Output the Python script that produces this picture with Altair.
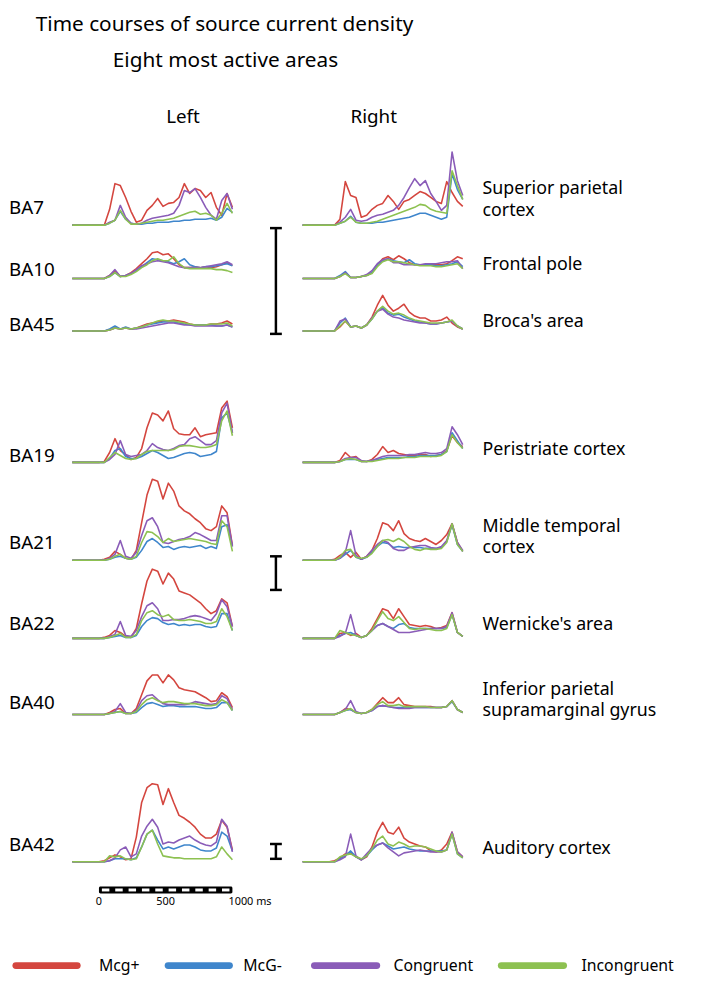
import altair as alt
import pandas as pd

# ---------------- data ----------------
T_MS = [-200, 0, 40, 80, 120, 160, 200, 240, 280, 320, 360, 400, 440, 480, 520,
        560, 600, 640, 680, 720, 760, 800, 840, 880, 920, 960, 1000]

CONDITIONS = ["Mcg+", "McG-", "Congruent", "Incongruent"]
COLORS = ["#d4463f", "#3f86cc", "#8a5cb8", "#8dc151"]

AREAS = ["BA7", "BA10", "BA45", "BA19", "BA21", "BA22", "BA40", "BA42"]
AREA_NAMES = [["Superior parietal", "cortex"], ["Frontal pole"], ["Broca's area"],
              ["Peristriate cortex"], ["Middle temporal", "cortex"], ["Wernicke's area"],
              ["Inferior parietal", "supramarginal gyrus"], ["Auditory cortex"]]

# amplitudes (arbitrary units) per area / hemisphere / condition
BA7_L_MCGP = [0, 0, 0, 16, 42, 40, 28, 14, 3, 5, 15, 20, 27, 19, 22, 23, 28, 42, 32, 37, 35, 28, 33, 18, 10, 32, 18]
BA7_L_MCGM = [0, 0, 0, 2, 5, 14, 6, 2, 1, 1, 2, 2, 3, 3, 3, 4, 4, 5, 5, 6, 6, 6, 7, 5, 8, 17, 13]
BA7_L_CONG = [0, 0, 0, 3, 5, 20, 8, 2, 1, 2, 5, 7, 8, 9, 10, 12, 20, 35, 33, 37, 28, 18, 10, 6, 25, 32, 16]
BA7_L_INCO = [0, 0, 0, 2, 5, 15, 6, 1, 1, 2, 3, 4, 5, 5, 6, 7, 9, 11, 13, 14, 11, 12, 10, 5, 12, 22, 12]
BA7_R_MCGP = [0, 0, 0, 6, 44, 30, 28, 8, 10, 16, 20, 22, 30, 24, 16, 24, 26, 30, 34, 32, 28, 24, 22, 44, 33, 24, 19]
BA7_R_MCGM = [0, 0, 0, 2, 4, 9, 3, 2, 2, 2, 3, 3, 4, 5, 6, 7, 8, 10, 12, 12, 10, 8, 6, 8, 52, 36, 26]
BA7_R_CONG = [0, 0, 0, 3, 8, 16, 5, 4, 5, 8, 10, 11, 13, 15, 20, 28, 38, 47, 40, 45, 32, 24, 15, 20, 74, 45, 30]
BA7_R_INCO = [0, 0, 0, 2, 4, 8, 3, 2, 2, 3, 4, 6, 8, 10, 12, 14, 16, 18, 21, 20, 16, 14, 13, 12, 55, 40, 26]

BA10_L_MCGP = [0, 0, 0, 3, 8, 2, 3, 6, 10, 15, 20, 26, 27, 24, 25, 20, 14, 11, 11, 12, 11, 12, 11, 12, 14, 16, 13]
BA10_L_MCGM = [0, 0, 0, 2, 6, 2, 3, 5, 8, 12, 16, 20, 19, 18, 17, 15, 17, 20, 14, 12, 11, 12, 12, 13, 14, 15, 13]
BA10_L_CONG = [0, 0, 0, 3, 9, 2, 3, 5, 9, 13, 15, 17, 18, 17, 16, 14, 12, 11, 11, 11, 11, 12, 13, 14, 15, 17, 14]
BA10_L_INCO = [0, 0, 0, 2, 6, 2, 2, 4, 7, 11, 14, 18, 20, 18, 18, 22, 15, 11, 10, 10, 10, 10, 10, 9, 9, 8, 6]
BA10_R_MCGP = [0, 0, 0, 2, 6, 1, 1, 2, 3, 6, 14, 20, 22, 19, 23, 20, 16, 14, 14, 14, 14, 14, 14, 15, 18, 22, 20]
BA10_R_MCGM = [0, 0, 0, 3, 7, 1, 1, 2, 3, 6, 14, 18, 20, 18, 17, 16, 19, 15, 14, 14, 14, 13, 13, 14, 15, 17, 12]
BA10_R_CONG = [0, 0, 0, 2, 6, 1, 1, 2, 4, 8, 15, 19, 20, 16, 16, 14, 14, 14, 14, 15, 15, 15, 16, 17, 17, 18, 10]
BA10_R_INCO = [0, 0, 0, 2, 5, 1, 1, 2, 3, 5, 12, 17, 19, 17, 17, 16, 15, 14, 13, 13, 13, 12, 12, 13, 14, 15, 10]

BA45_L_MCGP = [0, 0, 0, 1, 3, 2, 3, 2, 3, 5, 7, 8, 9, 10, 10, 11, 10, 9, 7, 6, 6, 6, 7, 7, 8, 10, 7]
BA45_L_MCGM = [0, 0, 0, 2, 5, 2, 4, 2, 3, 4, 6, 7, 8, 9, 9, 9, 8, 7, 6, 6, 6, 6, 6, 5, 5, 6, 4]
BA45_L_CONG = [0, 0, 0, 1, 3, 2, 3, 2, 2, 3, 4, 5, 6, 7, 8, 8, 7, 6, 6, 5, 5, 5, 5, 5, 5, 6, 4]
BA45_L_INCO = [0, 0, 0, 1, 3, 2, 3, 2, 3, 4, 6, 8, 10, 11, 10, 10, 9, 8, 7, 6, 6, 6, 7, 7, 7, 8, 5]
BA45_R_MCGP = [0, 0, 0, 4, 10, 4, 5, 3, 6, 14, 26, 36, 26, 20, 23, 27, 19, 15, 13, 13, 10, 10, 11, 14, 8, 4, 2]
BA45_R_MCGM = [0, 0, 0, 8, 13, 4, 5, 3, 6, 12, 20, 24, 18, 16, 17, 14, 12, 10, 9, 8, 7, 7, 8, 9, 10, 5, 2]
BA45_R_CONG = [0, 0, 0, 10, 12, 4, 5, 3, 6, 13, 20, 22, 17, 14, 13, 11, 10, 9, 8, 8, 7, 7, 8, 9, 10, 5, 2]
BA45_R_INCO = [0, 0, 0, 5, 10, 4, 5, 3, 6, 12, 20, 25, 20, 17, 18, 16, 13, 11, 10, 9, 8, 8, 8, 9, 11, 5, 2]

BA19_L_MCGP = [0, 0, 1, 10, 24, 12, 8, 3, 5, 14, 35, 50, 48, 42, 52, 34, 29, 28, 28, 35, 26, 28, 29, 30, 55, 62, 35]
BA19_L_MCGM = [0, 0, 0, 4, 12, 14, 6, 4, 4, 6, 9, 12, 10, 7, 4, 5, 7, 9, 10, 9, 6, 7, 8, 11, 45, 50, 30]
BA19_L_CONG = [0, 0, 0, 3, 8, 22, 8, 6, 7, 8, 12, 19, 15, 13, 12, 14, 17, 18, 24, 26, 22, 18, 18, 22, 50, 60, 30]
BA19_L_INCO = [0, 0, 0, 5, 10, 7, 4, 3, 4, 8, 11, 12, 12, 12, 12, 13, 16, 17, 17, 16, 15, 15, 16, 18, 42, 52, 27]
BA19_R_MCGP = [0, 0, 0, 2, 10, 5, 6, 1, 1, 3, 8, 16, 10, 12, 9, 8, 7, 7, 8, 8, 6, 7, 8, 12, 27, 20, 16]
BA19_R_MCGM = [0, 0, 0, 1, 3, 3, 3, 1, 1, 2, 3, 4, 5, 5, 5, 5, 6, 6, 7, 7, 7, 7, 8, 11, 30, 22, 14]
BA19_R_CONG = [0, 0, 0, 1, 4, 5, 5, 2, 1, 2, 4, 6, 7, 7, 7, 7, 8, 8, 9, 10, 9, 9, 10, 14, 36, 28, 18]
BA19_R_INCO = [0, 0, 0, 1, 3, 4, 3, 1, 1, 1, 2, 3, 4, 4, 4, 5, 5, 5, 6, 6, 6, 6, 7, 11, 28, 20, 14]

BA21_L_MCGP = [0, 0, 1, 3, 9, 6, 2, 1, 10, 38, 66, 82, 80, 62, 78, 70, 55, 50, 47, 42, 38, 32, 30, 34, 55, 48, 15]
BA21_L_MCGM = [0, 0, 0, 1, 3, 4, 2, 1, 3, 10, 19, 22, 18, 13, 14, 11, 13, 14, 13, 14, 15, 12, 14, 12, 34, 36, 14]
BA21_L_CONG = [0, 0, 0, 2, 6, 20, 4, 2, 8, 25, 40, 43, 34, 18, 17, 19, 21, 22, 24, 28, 26, 23, 20, 20, 45, 45, 14]
BA21_L_INCO = [0, 0, 0, 1, 4, 6, 2, 1, 4, 18, 29, 28, 24, 18, 22, 19, 20, 21, 22, 21, 20, 19, 17, 16, 40, 34, 9]
BA21_R_MCGP = [0, 0, 1, 5, 8, 3, 8, 1, 4, 10, 22, 38, 36, 30, 40, 27, 22, 20, 19, 22, 19, 16, 20, 26, 37, 18, 9]
BA21_R_MCGM = [0, 0, 0, 2, 6, 10, 3, 1, 3, 8, 14, 18, 17, 13, 14, 13, 13, 13, 13, 12, 12, 12, 13, 19, 36, 16, 9]
BA21_R_CONG = [0, 0, 0, 2, 8, 30, 5, 1, 4, 10, 16, 20, 18, 12, 10, 10, 13, 14, 15, 15, 13, 12, 14, 20, 37, 18, 10]
BA21_R_INCO = [0, 0, 0, 3, 10, 11, 3, 2, 3, 7, 14, 20, 21, 19, 22, 19, 14, 11, 10, 12, 11, 11, 12, 18, 37, 16, 9]

BA22_L_MCGP = [0, 0, 1, 3, 8, 6, 2, 1, 10, 35, 58, 70, 68, 55, 66, 60, 48, 46, 44, 40, 36, 30, 25, 28, 40, 36, 12]
BA22_L_MCGM = [0, 0, 0, 1, 2, 3, 1, 1, 3, 12, 18, 21, 20, 16, 14, 15, 13, 14, 13, 14, 14, 12, 11, 12, 25, 25, 8]
BA22_L_CONG = [0, 0, 0, 2, 4, 17, 3, 2, 8, 22, 33, 36, 30, 18, 18, 19, 19, 20, 22, 23, 22, 20, 18, 25, 39, 32, 12]
BA22_L_INCO = [0, 0, 0, 1, 3, 5, 1, 1, 4, 18, 26, 28, 24, 22, 24, 19, 18, 18, 19, 18, 17, 15, 15, 17, 30, 22, 8]
BA22_R_MCGP = [0, 0, 0, 5, 6, 3, 5, 1, 3, 10, 20, 30, 28, 20, 30, 22, 14, 13, 12, 13, 12, 10, 11, 13, 26, 6, 2]
BA22_R_MCGM = [0, 0, 0, 3, 5, 6, 3, 1, 3, 8, 13, 15, 12, 10, 14, 15, 11, 10, 10, 10, 10, 10, 10, 11, 24, 6, 2]
BA22_R_CONG = [0, 0, 0, 2, 5, 24, 3, 1, 3, 8, 13, 15, 12, 9, 6, 6, 6, 7, 8, 9, 10, 10, 10, 12, 26, 6, 2]
BA22_R_INCO = [0, 0, 0, 8, 6, 4, 3, 1, 3, 8, 18, 27, 20, 18, 22, 16, 10, 9, 10, 10, 9, 8, 8, 10, 24, 6, 2]

BA40_L_MCGP = [0, 0, 0, 2, 5, 6, 1, 1, 6, 20, 34, 40, 40, 32, 40, 35, 27, 25, 24, 23, 20, 17, 13, 14, 22, 18, 7]
BA40_L_MCGM = [0, 0, 0, 1, 2, 3, 1, 1, 2, 7, 11, 12, 10, 8, 9, 9, 8, 8, 8, 8, 7, 6, 6, 7, 12, 12, 4]
BA40_L_CONG = [0, 0, 0, 1, 3, 11, 2, 1, 4, 14, 19, 20, 15, 11, 10, 10, 10, 10, 11, 13, 12, 11, 10, 11, 19, 16, 5]
BA40_L_INCO = [0, 0, 0, 1, 2, 3, 1, 1, 3, 10, 15, 17, 14, 12, 13, 13, 12, 11, 11, 11, 10, 9, 9, 10, 15, 12, 4]
BA40_R_MCGP = [0, 0, 0, 2, 6, 5, 2, 1, 2, 5, 11, 17, 12, 12, 17, 10, 9, 8, 8, 8, 8, 7, 7, 8, 14, 5, 2]
BA40_R_MCGM = [0, 0, 0, 2, 4, 5, 2, 1, 2, 4, 8, 9, 8, 7, 7, 7, 7, 7, 7, 7, 7, 7, 7, 8, 13, 5, 2]
BA40_R_CONG = [0, 0, 0, 2, 5, 14, 3, 1, 2, 4, 8, 9, 8, 7, 6, 6, 6, 7, 7, 7, 7, 7, 7, 8, 14, 5, 2]
BA40_R_INCO = [0, 0, 0, 2, 4, 6, 2, 1, 2, 5, 10, 13, 9, 9, 10, 8, 8, 8, 8, 8, 7, 7, 7, 8, 14, 5, 2]

BA42_L_MCGP = [0, 0, 1, 4, 7, 5, 2, 3, 25, 60, 75, 79, 78, 58, 74, 60, 47, 44, 40, 35, 28, 24, 24, 28, 42, 35, 12]
BA42_L_MCGM = [0, 0, 0, 1, 3, 3, 3, 2, 4, 15, 28, 32, 22, 13, 15, 13, 15, 17, 17, 15, 12, 11, 11, 14, 30, 26, 11]
BA42_L_CONG = [0, 0, 0, 1, 4, 12, 15, 5, 8, 26, 36, 43, 35, 18, 20, 19, 22, 24, 26, 22, 19, 17, 16, 20, 43, 36, 10]
BA42_L_INCO = [0, 0, 0, 6, 5, 6, 3, 2, 3, 15, 28, 32, 18, 6, 5, 4, 4, 3, 3, 3, 3, 3, 3, 5, 15, 8, 2]
BA42_R_MCGP = [0, 0, 1, 4, 8, 9, 5, 2, 5, 15, 30, 40, 30, 28, 35, 24, 20, 18, 16, 15, 11, 10, 12, 18, 30, 10, 5]
BA42_R_MCGM = [0, 0, 0, 3, 6, 11, 5, 2, 6, 12, 17, 19, 16, 13, 14, 15, 13, 12, 11, 11, 11, 11, 11, 12, 28, 8, 4]
BA42_R_CONG = [0, 0, 0, 2, 5, 28, 6, 2, 8, 14, 17, 19, 14, 10, 6, 9, 10, 11, 12, 11, 10, 10, 10, 12, 30, 10, 5]
BA42_R_INCO = [0, 0, 0, 5, 7, 8, 5, 3, 6, 13, 22, 26, 18, 16, 20, 18, 15, 16, 16, 15, 13, 11, 10, 12, 28, 8, 4]

SERIES = {
    ("BA7", "Left"): [BA7_L_MCGP, BA7_L_MCGM, BA7_L_CONG, BA7_L_INCO],
    ("BA7", "Right"): [BA7_R_MCGP, BA7_R_MCGM, BA7_R_CONG, BA7_R_INCO],
    ("BA10", "Left"): [BA10_L_MCGP, BA10_L_MCGM, BA10_L_CONG, BA10_L_INCO],
    ("BA10", "Right"): [BA10_R_MCGP, BA10_R_MCGM, BA10_R_CONG, BA10_R_INCO],
    ("BA45", "Left"): [BA45_L_MCGP, BA45_L_MCGM, BA45_L_CONG, BA45_L_INCO],
    ("BA45", "Right"): [BA45_R_MCGP, BA45_R_MCGM, BA45_R_CONG, BA45_R_INCO],
    ("BA19", "Left"): [BA19_L_MCGP, BA19_L_MCGM, BA19_L_CONG, BA19_L_INCO],
    ("BA19", "Right"): [BA19_R_MCGP, BA19_R_MCGM, BA19_R_CONG, BA19_R_INCO],
    ("BA21", "Left"): [BA21_L_MCGP, BA21_L_MCGM, BA21_L_CONG, BA21_L_INCO],
    ("BA21", "Right"): [BA21_R_MCGP, BA21_R_MCGM, BA21_R_CONG, BA21_R_INCO],
    ("BA22", "Left"): [BA22_L_MCGP, BA22_L_MCGM, BA22_L_CONG, BA22_L_INCO],
    ("BA22", "Right"): [BA22_R_MCGP, BA22_R_MCGM, BA22_R_CONG, BA22_R_INCO],
    ("BA40", "Left"): [BA40_L_MCGP, BA40_L_MCGM, BA40_L_CONG, BA40_L_INCO],
    ("BA40", "Right"): [BA40_R_MCGP, BA40_R_MCGM, BA40_R_CONG, BA40_R_INCO],
    ("BA42", "Left"): [BA42_L_MCGP, BA42_L_MCGM, BA42_L_CONG, BA42_L_INCO],
    ("BA42", "Right"): [BA42_R_MCGP, BA42_R_MCGM, BA42_R_CONG, BA42_R_INCO],
}

AXIS_TICKS_MS = [0, 100, 200, 300, 400, 500, 600, 700, 800, 900]
AXIS_LABELS = [(0, "0", "center"), (500, "500", "center"), (1000, "1000 ms", "left")]

# ---------------- layout (page pixels) ----------------
W, H = 701, 979
M = 8  # page margin
FONT = "Noto Sans"
ROW_BASE = {"BA7": 222, "BA10": 276, "BA45": 329, "BA19": 462,
            "BA21": 561, "BA22": 640, "BA40": 717, "BA42": 866}
ROW_LABEL_Y = {"BA7": 205, "BA10": 267, "BA45": 323, "BA19": 456,
               "BA21": 544, "BA22": 626, "BA40": 705, "BA42": 849}
NAME_Y = {"BA7": 186, "BA10": 262, "BA45": 320, "BA19": 450,
          "BA21": 527, "BA22": 627, "BA40": 692, "BA42": 853}
NAME_LINE_H = 22
PANEL_X = {"Left": (73, 235), "Right": (306, 468)}
GAIN = 1.0  # pixels per amplitude unit
SCALE_BARS = [(225, 332), (557, 591), (848, 863)]
SCALE_BAR_X = 279
AXIS_Y = (891, 898)
LEGEND_Y = 971
LEGEND_POS = [(16, 78, 100), (170, 232, 246), (318, 381, 398), (507, 570, 588)]

PXS = alt.Scale(domain=[M, W + M], range=[0, W], nice=False, zero=False)
PYS = alt.Scale(domain=[M, H + M], range=[0, H], nice=False, zero=False)
COLOR = alt.Color("cond:N", scale=alt.Scale(domain=CONDITIONS, range=COLORS), legend=None)


def time_scale(hemi):
    x0, x1 = PANEL_X[hemi]
    return alt.Scale(domain=[-200, 1000], range=[x0 - M, x1 - M], nice=False, zero=False)


def panel(area, hemi):
    rows = []
    for cond, vals in zip(CONDITIONS, SERIES[(area, hemi)]):
        for t, v in zip(T_MS, vals):
            rows.append({"t": t, "amp": v, "cond": cond})
    df = pd.DataFrame(rows)
    base = ROW_BASE[area] - M
    ys = alt.Scale(domain=[0, 100], range=[base, base - 100 * GAIN], nice=False, zero=False)
    return alt.Chart(df).mark_line(strokeWidth=1.6, strokeJoin="round").encode(
        x=alt.X("t:Q", scale=time_scale(hemi), axis=None),
        y=alt.Y("amp:Q", scale=ys, axis=None),
        color=COLOR,
        detail="cond:N",
    )


def text_layer(rows, size, align="left", line_height=None):
    df = pd.DataFrame(rows, columns=["px", "py", "label"])
    kw = {}
    if line_height is not None:
        kw["lineHeight"] = line_height
    return alt.Chart(df).mark_text(font=FONT, fontSize=size, align=align, baseline="middle",
                                   color="black", **kw).encode(
        x=alt.X("px:Q", scale=PXS, axis=None),
        y=alt.Y("py:Q", scale=PYS, axis=None),
        text="label",
    )


layers = []
for area in AREAS:
    for hemi in ["Left", "Right"]:
        layers.append(panel(area, hemi))

# titles
layers.append(text_layer([(227, 20, "Time courses of source current density"),
                          (228, 56, "Eight most active areas")], 21, "center"))
layers.append(text_layer([(185, 113, "Left"), (378, 113, "Right")], 19, "center"))
layers.append(text_layer([(9, ROW_LABEL_Y[a], a) for a in AREAS], 19, "left"))
name_rows = [(488, NAME_Y[a], names) for a, names in zip(AREAS, AREA_NAMES)]
layers.append(text_layer(name_rows, 18, "left", NAME_LINE_H))

# scale bars
sb = pd.DataFrame([{"px": SCALE_BAR_X, "y1": a, "y2": b} for a, b in SCALE_BARS])
layers.append(alt.Chart(sb).mark_rule(color="black", strokeWidth=2.5).encode(
    x=alt.X("px:Q", scale=PXS, axis=None), y=alt.Y("y1:Q", scale=PYS, axis=None), y2="y2:Q"))
serif = pd.DataFrame([{"x1": SCALE_BAR_X - 6, "x2": SCALE_BAR_X + 6, "py": v}
                      for pair in SCALE_BARS for v in pair])
layers.append(alt.Chart(serif).mark_rule(color="black", strokeWidth=2.5).encode(
    x=alt.X("x1:Q", scale=PXS, axis=None), x2="x2:Q", y=alt.Y("py:Q", scale=PYS, axis=None)))

# time axis (ruler)
ruler = pd.DataFrame([{"t0": 0, "t1": 1000}])
layers.append(alt.Chart(ruler).mark_rect(color="black", cornerRadius=1.5).encode(
    x=alt.X("t0:Q", scale=time_scale("Left"), axis=None), x2="t1:Q",
    y=alt.value(AXIS_Y[0] - M), y2=alt.value(AXIS_Y[1] - M)))
seg = pd.DataFrame({"s": AXIS_TICKS_MS})
layers.append(alt.Chart(seg).transform_calculate(a="datum.s + 22", b="datum.s + 78").mark_rect(
    color="white").encode(
    x=alt.X("a:Q", scale=time_scale("Left"), axis=None), x2="b:Q",
    y=alt.value(AXIS_Y[0] - M + 2), y2=alt.value(AXIS_Y[1] - M - 2)))
for t, lab, al in AXIS_LABELS:
    layers.append(alt.Chart(pd.DataFrame([{"t": t, "label": lab}])).mark_text(
        font=FONT, fontSize=11, align=al, baseline="top", dx=-4 if al == "left" else 0).encode(
        x=alt.X("t:Q", scale=time_scale("Left"), axis=None),
        y=alt.value(AXIS_Y[1] - M + 3), text="label:N"))

# legend
leg = pd.DataFrame([{"cond": c, "x1": p[0], "x2": p[1], "tx": p[2], "py": LEGEND_Y}
                    for c, p in zip(CONDITIONS, LEGEND_POS)])
layers.append(alt.Chart(leg).mark_rule(strokeWidth=7, strokeCap="round").encode(
    x=alt.X("x1:Q", scale=PXS, axis=None), x2="x2:Q",
    y=alt.Y("py:Q", scale=PYS, axis=None), color=COLOR))
layers.append(alt.Chart(leg).mark_text(font=FONT, fontSize=16, align="left", baseline="middle",
                                       color="black").encode(
    x=alt.X("tx:Q", scale=PXS, axis=None), y=alt.Y("py:Q", scale=PYS, axis=None), text="cond:N"))

chart = alt.layer(*layers).resolve_scale(x="independent", y="independent").properties(
    width=W, height=H, padding=0, autosize=alt.AutoSizeParams(type="none")
).configure_view(stroke=None)

chart.save("out.html", embed_options={"renderer": "svg", "actions": False})
